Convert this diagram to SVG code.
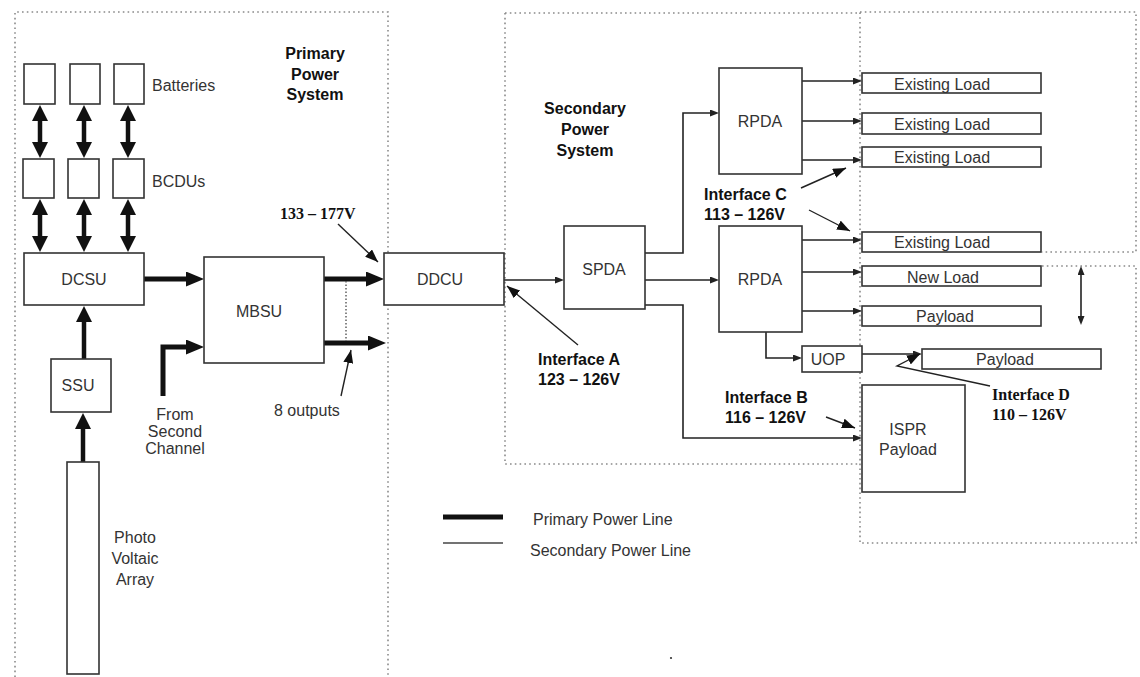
<svg xmlns="http://www.w3.org/2000/svg" width="1140" height="677" viewBox="0 0 1140 677">
<style>
.bx{fill:#fff;stroke:#333;stroke-width:1.6}
.t{font-family:"Liberation Sans",Arial,sans-serif;font-size:16px;fill:#333}
.m{text-anchor:middle}
.b{font-weight:bold;fill:#111}
.tr{font-family:"Liberation Serif","Times New Roman",serif;font-size:16px;font-weight:bold;fill:#111}
.dot{fill:none;stroke:#8a8a8a;stroke-width:1.6;stroke-dasharray:1.6 3.2}
.thick{fill:none;stroke:#111;stroke-width:5}
.dbl{fill:none;stroke:#111;stroke-width:4.5}
.thin{fill:none;stroke:#222;stroke-width:1.6}
.ptr{fill:none;stroke:#222;stroke-width:1.4}
</style>
<defs>
<marker id="ah" markerUnits="userSpaceOnUse" markerWidth="18" markerHeight="15" refX="0" refY="7.5" orient="auto-start-reverse"><path d="M0,0 L18,7.5 L0,15 z" fill="#111"/></marker>
<marker id="dh" markerUnits="userSpaceOnUse" markerWidth="16" markerHeight="16" refX="0" refY="8" orient="auto-start-reverse"><path d="M0,0 L16,8 L0,16 z" fill="#111"/></marker>
<marker id="sh" markerUnits="userSpaceOnUse" markerWidth="9" markerHeight="7" refX="0" refY="3.5" orient="auto-start-reverse"><path d="M0,0 L9,3.5 L0,7 z" fill="#222"/></marker>
<marker id="ph" markerUnits="userSpaceOnUse" markerWidth="13" markerHeight="10" refX="13" refY="5" orient="auto"><path d="M0,0 L13,5 L0,10 z" fill="#111"/></marker>
</defs>

<g id="boundaries">
<path class="dot" d="M15,677 V12 H388 V677"/>
<path class="dot" d="M505,13 H860 M505,13 V464 H860"/>
<path class="dot" d="M860,12 H1136 V252 H1042 M1042,266 H1136 V543 H860 V12"/>
</g>

<g id="connectors">
<path class="dbl" d="M40,121 V142" marker-start="url(#dh)" marker-end="url(#dh)"/>
<path class="dbl" d="M84,121 V142" marker-start="url(#dh)" marker-end="url(#dh)"/>
<path class="dbl" d="M128,121 V142" marker-start="url(#dh)" marker-end="url(#dh)"/>
<path class="dbl" d="M40,215 V236" marker-start="url(#dh)" marker-end="url(#dh)"/>
<path class="dbl" d="M84,215 V236" marker-start="url(#dh)" marker-end="url(#dh)"/>
<path class="dbl" d="M128,215 V236" marker-start="url(#dh)" marker-end="url(#dh)"/>
<path class="dbl" d="M84,359 V322" marker-end="url(#dh)"/>
<path class="dbl" d="M83,462 V429" marker-end="url(#dh)"/>
<path class="thick" d="M144,279 H186" marker-end="url(#ah)"/>
<path class="thick" d="M163,396 V347 H186" marker-end="url(#ah)"/>
<path class="thick" d="M324,279 H366" marker-end="url(#ah)"/>
<path class="thick" d="M324,343 H368" marker-end="url(#ah)"/>
<path d="M346,281 V341" fill="none" stroke="#555" stroke-width="1.4" stroke-dasharray="1.5 2"/>
<path class="thin" d="M504,280 H555" marker-end="url(#sh)"/>
<path class="thin" d="M645,253 H683 V113 H710" marker-end="url(#sh)"/>
<path class="thin" d="M645,280 H710" marker-end="url(#sh)"/>
<path class="thin" d="M645,305 H683 V438 H853" marker-end="url(#sh)"/>
<path class="thin" d="M802,81 H853" marker-end="url(#sh)"/>
<path class="thin" d="M802,121 H853" marker-end="url(#sh)"/>
<path class="thin" d="M802,160 H853" marker-end="url(#sh)"/>
<path class="thin" d="M802,240 H853" marker-end="url(#sh)"/>
<path class="thin" d="M802,272 H853" marker-end="url(#sh)"/>
<path class="thin" d="M802,311 H853" marker-end="url(#sh)"/>
<path class="thin" d="M766,332 V358 H793" marker-end="url(#sh)"/>
<path class="thin" d="M862,354 H913" marker-end="url(#sh)"/>
<path class="thin" d="M1081,275 V316" marker-start="url(#sh)" marker-end="url(#sh)"/>
<path class="ptr" d="M338,224 L378,262" marker-end="url(#ph)"/>
<path class="ptr" d="M341,396 L351,350" marker-end="url(#ph)"/>
<path class="ptr" d="M578,345 L507,286" marker-end="url(#ph)"/>
<path class="ptr" d="M801,188 L846,168" marker-end="url(#ph)"/>
<path class="ptr" d="M809,210 L850,231" marker-end="url(#ph)"/>
<path class="ptr" d="M826,417 L855,428" marker-end="url(#ph)"/>
<path class="ptr" d="M990,386 L897,366 L920,354" marker-end="url(#ph)"/>
</g>

<g id="batteries">
<rect class="bx" x="24" y="64" width="31" height="40"/>
<rect class="bx" x="70" y="64" width="30" height="40"/>
<rect class="bx" x="114" y="64" width="30" height="40"/>
<text class="t" x="152" y="91">Batteries</text>
</g>
<g id="bcdus">
<rect class="bx" x="23" y="159" width="31" height="39"/>
<rect class="bx" x="68" y="159" width="31" height="39"/>
<rect class="bx" x="113" y="159" width="31" height="39"/>
<text class="t" x="152" y="187">BCDUs</text>
</g>
<g id="dcsu"><rect class="bx" x="24" y="253" width="120" height="52"/><text class="t m" x="84" y="285">DCSU</text></g>
<g id="ssu"><rect class="bx" x="51" y="359" width="60" height="53"/><text class="t m" x="78" y="391">SSU</text></g>
<g id="pva"><rect class="bx" x="67" y="462" width="32" height="212"/>
<text class="t m" x="135" y="543">Photo</text><text class="t m" x="135" y="564">Voltaic</text><text class="t m" x="135" y="585">Array</text></g>
<g id="mbsu"><rect class="bx" x="204" y="257" width="120" height="106"/><text class="t m" x="259" y="317">MBSU</text></g>
<g id="second-channel"><text class="t m" x="175" y="420">From</text><text class="t m" x="175" y="437">Second</text><text class="t m" x="175" y="454">Channel</text></g>
<g id="outputs"><text class="t" x="274" y="416">8 outputs</text></g>
<g id="primary-label"><text class="t m b" x="315" y="59">Primary</text><text class="t m b" x="315" y="80">Power</text><text class="t m b" x="315" y="100">System</text></g>
<g id="v133"><text class="tr" x="280" y="219">133 – 177V</text></g>
<g id="ddcu"><rect class="bx" x="384" y="253" width="120" height="52"/><text class="t m" x="440" y="285">DDCU</text></g>
<g id="secondary-label"><text class="t m b" x="585" y="114">Secondary</text><text class="t m b" x="585" y="135">Power</text><text class="t m b" x="585" y="156">System</text></g>
<g id="spda"><rect class="bx" x="564" y="226" width="81" height="83"/><text class="t m" x="604" y="275">SPDA</text></g>
<g id="rpda1"><rect class="bx" x="719" y="68" width="83" height="106"/><text class="t m" x="760" y="127">RPDA</text></g>
<g id="rpda2"><rect class="bx" x="719" y="226" width="83" height="106"/><text class="t m" x="760" y="285">RPDA</text></g>
<g id="ifa"><text class="t b" x="538" y="365">Interface A</text><text class="t b" x="538" y="385">123 – 126V</text></g>
<g id="ifc"><text class="t b" x="704" y="200">Interface C</text><text class="t b" x="704" y="220">113 – 126V</text></g>
<g id="ifb"><text class="t b" x="725" y="403">Interface B</text><text class="t b" x="725" y="423">116 – 126V</text></g>
<g id="ifd"><text class="tr" x="992" y="400">Interface D</text><text class="tr" x="992" y="420">110 – 126V</text></g>
<g id="load1"><rect class="bx" x="862" y="73" width="179" height="20"/><text class="t m" x="942" y="90">Existing Load</text></g>
<g id="load2"><rect class="bx" x="862" y="113" width="179" height="21"/><text class="t m" x="942" y="130">Existing Load</text></g>
<g id="load3"><rect class="bx" x="862" y="147" width="179" height="20"/><text class="t m" x="942" y="163">Existing Load</text></g>
<g id="load4"><rect class="bx" x="862" y="232" width="179" height="20"/><text class="t m" x="942" y="248">Existing Load</text></g>
<g id="newload"><rect class="bx" x="862" y="266" width="179" height="20"/><text class="t m" x="943" y="283">New Load</text></g>
<g id="payload1"><rect class="bx" x="862" y="306" width="179" height="20"/><text class="t m" x="945" y="322">Payload</text></g>
<g id="uop"><rect class="bx" x="802" y="346" width="60" height="26"/><text class="t m" x="828" y="365">UOP</text></g>
<g id="payload2"><rect class="bx" x="922" y="349" width="179" height="20"/><text class="t m" x="1005" y="365">Payload</text></g>
<g id="ispr"><rect class="bx" x="862" y="385" width="103" height="107"/><text class="t m" x="908" y="435">ISPR</text><text class="t m" x="908" y="455">Payload</text></g>
<g id="legend">
<line x1="443" y1="517" x2="503" y2="517" stroke="#111" stroke-width="5"/>
<line x1="443" y1="543" x2="503" y2="543" stroke="#444" stroke-width="1.4"/>
<text class="t" x="533" y="525">Primary Power Line</text>
<text class="t" x="530" y="556">Secondary Power Line</text>
</g>
<circle cx="671" cy="658" r="1.1" fill="#333"/>
</svg>
